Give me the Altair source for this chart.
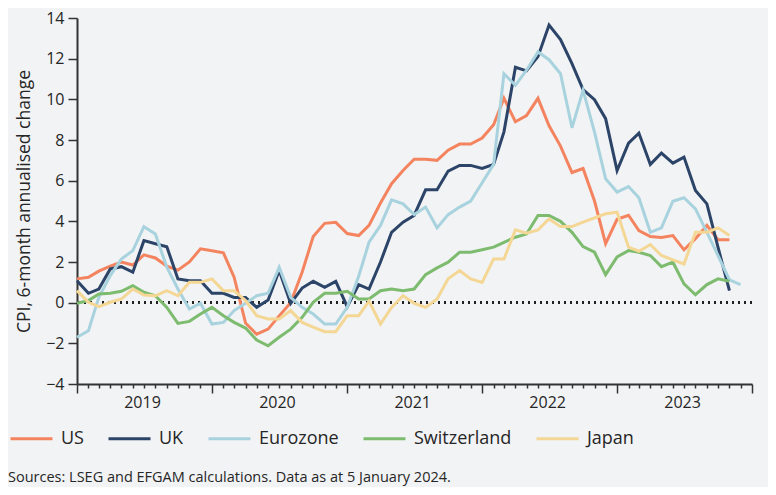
import altair as alt
import pandas as pd

# Monthly observations, Jan 2019 onwards
months = [f"{2019 + i // 12}-{i % 12 + 1:02d}-01T00:00:00" for i in range(60)]

series_names = ["US", "UK", "Eurozone", "Switzerland", "Japan"]
series_colors = ["#F4845F", "#2C4468", "#A8D3DE", "#7DBB6F", "#F4D794"]

us = [1.17, 1.25, 1.55, 1.8, 2.0, 1.85, 2.35, 2.2, 1.8, 1.6, 2.0, 2.65, 2.55, 2.45, 1.25,
      -1.0, -1.55, -1.3, -0.65, 0.0, 1.5, 3.25, 3.9, 3.95, 3.4, 3.3, 3.8, 4.9, 5.85, 6.5,
      7.05, 7.05, 7.0, 7.5, 7.8, 7.8, 8.1, 8.75, 10.05, 8.9, 9.2, 10.05, 8.7, 7.7, 6.4,
      6.6, 5.0, 2.9, 4.1, 4.3, 3.55, 3.25, 3.2, 3.3, 2.6, 3.15, 3.8, 3.1, 3.1]
uk = [1.08, 0.46, 0.67, 1.66, 1.77, 1.5, 3.05, 2.9, 2.75, 1.17, 1.08, 1.08, 0.46, 0.46, 0.26,
      0.26, -0.23, 0.13, 1.58, -0.03, 0.72, 1.05, 0.75, 1.05, -0.2, 0.89, 0.67, 2.0, 3.46, 3.96,
      4.29, 5.55, 5.55, 6.47, 6.75, 6.75, 6.6, 6.8, 8.4, 11.58, 11.4, 12.1, 13.65, 12.94, 11.76,
      10.48, 9.98, 9.05, 6.5, 7.85, 8.34, 6.8, 7.36, 6.86, 7.16, 5.52, 4.86, 2.73, 0.59]
eurozone = [-1.7, -1.38, 0.26, 1.33, 2.15, 2.56, 3.74, 3.38, 1.74, 0.67, -0.31, -0.03, -1.05, -0.97, -0.39,
            -0.03, 0.34, 0.46, 1.74, 0.26, -0.23, -0.56, -1.05, -1.05, -0.23, 1.3, 2.97, 3.8, 5.06, 4.86,
            4.33, 4.7, 3.68, 4.33, 4.7, 5.0, 5.9, 6.8, 11.26, 10.69, 11.43, 12.33, 11.95, 11.26, 8.6,
            10.45, 8.39, 6.09, 5.44, 5.71, 5.16, 3.46, 3.68, 4.99, 5.16, 4.61, 3.46, 2.32, 1.12, 0.89]
switzerland = [-0.03, 0.1, 0.43, 0.46, 0.56, 0.84, 0.51, 0.34, -0.23, -1.02, -0.92, -0.56, -0.23, -0.64, -0.97,
               -1.25, -1.84, -2.12, -1.7, -1.3, -0.72, 0.02, 0.46, 0.46, 0.56, 0.18, 0.18, 0.59, 0.67, 0.59,
               0.67, 1.38, 1.71, 1.99, 2.48, 2.48, 2.6, 2.73, 2.97, 3.22, 3.38, 4.29, 4.29, 4.0, 3.46,
               2.76, 2.48, 1.38, 2.25, 2.56, 2.48, 2.32, 1.77, 1.99, 0.92, 0.39, 0.89, 1.17, 1.05]
japan = [0.59, 0.02, -0.2, 0.02, 0.18, 0.67, 0.38, 0.34, 0.59, 0.34, 1.0, 1.0, 1.17, 0.59, 0.59,
         0.1, -0.64, -0.8, -0.8, -0.39, -0.97, -1.2, -1.43, -1.43, -0.64, -0.64, 0.07, -1.05, -0.23, 0.34,
         -0.03, -0.23, 0.18, 1.17, 1.58, 1.17, 1.0, 2.15, 2.15, 3.58, 3.42, 3.58, 4.12, 3.74, 3.74,
         3.96, 4.17, 4.37, 4.45, 2.73, 2.53, 2.86, 2.32, 2.1, 1.9, 3.46, 3.46, 3.68, 3.3]

y_ticks = [-4, -2, 0, 2, 4, 6, 8, 10, 12, 14]
source_text = ["Sources: LSEG and EFGAM calculations. Data as at 5 January 2024."]
y_title = "CPI, 6-month annualised change"

rows = []
for k, (name, vals) in enumerate(zip(series_names, [us, uk, eurozone, switzerland, japan])):
    for d, v in zip(months, vals):
        rows.append({"date": d, "value": v, "series": name, "k": k})
df = pd.DataFrame(rows)

FONT = "Open Sans"
TXT = "#262626"

month_vals = [alt.DateTime(year=2019 + i // 12, month=i % 12 + 1, date=1) for i in range(61)]

x_axis = alt.Axis(
    values=month_vals,
    tickSize={"condition": {"test": "month(datum.value) == 0", "value": 9}, "value": 4},
    labelExpr="month(datum.value) == 0 && year(datum.value) < 2024 ? timeFormat(datum.value, '%Y') : ''",
    labelOffset=65,
    labelOverlap=False,
    labelFlush=False,
    grid=False,
    domainColor="#333333",
    domainWidth=2,
    tickColor="#333333",
    tickWidth=1.5,
    labelFontSize=16,
    labelColor=TXT,
    labelPadding=1,
    labelFont=FONT,
    title=None,
)

y_axis = alt.Axis(
    values=y_ticks,
    tickSize=9,
    tickWidth=1.5,
    tickColor="#333333",
    domainColor="#333333",
    domainWidth=2,
    gridColor="#ffffff",
    gridWidth=2,
    labelFontSize=16,
    labelPadding=4,
    labelColor=TXT,
    labelFont=FONT,
    titleFontSize=17.5,
    titleFontWeight="normal",
    titleFont=FONT,
    titleColor=TXT,
    titleX=-44,
    titleY=183,
)

lines = alt.Chart(df).mark_line(strokeWidth=3).encode(
    x=alt.X(
        "date:T",
        scale=alt.Scale(
            domain=[alt.DateTime(year=2019, month=1, date=1), alt.DateTime(year=2024, month=1, date=1)],
            nice=False,
        ),
        axis=x_axis,
    ),
    y=alt.Y("value:Q", scale=alt.Scale(domain=[-4, 14], nice=False), axis=y_axis, title=y_title),
    color=alt.Color(
        "series:N",
        scale=alt.Scale(domain=series_names, range=series_colors),
        legend=alt.Legend(
            orient="none",
            legendX=-68,
            legendY=398,
            direction="horizontal",
            columns=5,
            symbolType="stroke",
            symbolSize=1764,
            symbolStrokeWidth=3,
            labelFontSize=18,
            labelColor=TXT,
            labelFont=FONT,
            columnPadding=18,
            labelOffset=7,
            title=None,
            padding=0,
        ),
    ),
    order=alt.Order("k:Q"),
)

zero = alt.Chart(df).mark_rule(strokeDash=[2, 4], color="#222222", strokeWidth=2).encode(
    y=alt.datum(0)
)

source = alt.Chart(pd.DataFrame({"t": source_text})).mark_text(
    align="left", baseline="middle", fontSize=14.5, font=FONT, color=TXT
).encode(text="t:N", x=alt.value(-69), y=alt.value(460))

chart = (
    alt.layer(zero, lines, source)
    .properties(
        width=675,
        height=366,
        autosize=alt.AutoSizeParams(type="none"),
        padding={"left": 69, "top": 10, "right": 16, "bottom": 103},
    )
    .configure(background="#F2F3F5")
    .configure_view(stroke=None)
)

chart.save("out.html", embed_options={"renderer": "svg", "actions": False})
